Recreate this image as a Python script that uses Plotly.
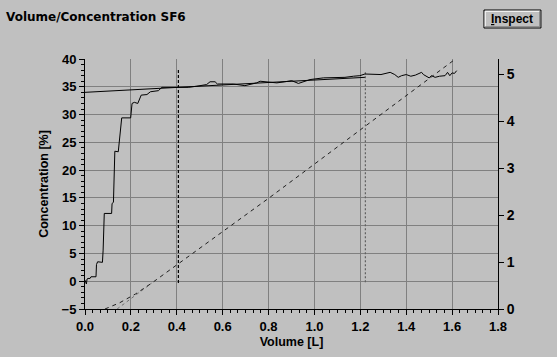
import plotly.graph_objects as go

# ---- data ----
conc_vol = [0.0, 0.006, 0.009, 0.013, 0.022, 0.026, 0.048, 0.050, 0.055, 0.076, 0.079, 0.084,
            0.116, 0.118, 0.124, 0.126, 0.130, 0.145, 0.150, 0.160, 0.199, 0.205, 0.215,
            0.230, 0.245, 0.270, 0.285, 0.320, 0.335, 0.370, 0.414, 0.450, 0.487, 0.530,
            0.545, 0.567, 0.577, 0.647, 0.697, 0.748, 0.763, 0.806, 0.836, 0.870, 0.901,
            0.930, 0.955, 0.981, 1.039, 1.080, 1.133, 1.170, 1.198, 1.220, 1.250, 1.290,
            1.330, 1.350, 1.365, 1.380, 1.400, 1.420, 1.440, 1.467, 1.475, 1.489, 1.500,
            1.510, 1.526, 1.545, 1.569, 1.575, 1.580, 1.590, 1.600, 1.610, 1.620]
conc_pct = [0.2, -0.5, 0.4, 0.5, 0.5, 0.8, 0.8, 3.0, 3.5, 3.4, 5.6, 12.2,
            12.2, 14.0, 14.2, 17.6, 23.4, 23.3, 25.0, 29.4, 29.4, 32.0, 32.2,
            32.0, 33.5, 33.6, 34.1, 34.3, 34.9, 34.9, 34.85, 34.9, 35.1, 35.4,
            35.9, 35.9, 35.5, 35.5, 35.2, 35.7, 36.0, 35.9, 35.7, 35.9, 36.1,
            35.6, 35.9, 36.3, 36.6, 36.6, 36.7, 36.9, 37.0, 37.3, 37.2, 37.2,
            37.6, 37.2, 36.7, 37.0, 37.2, 36.9, 37.1, 37.6, 37.2, 36.9, 36.6,
            37.0, 36.7, 36.9, 37.0, 37.3, 37.6, 37.0, 37.5, 37.4, 37.9]

fit_vol = [0.0, 1.22]
fit_pct = [34.0, 36.7]

vol_curve_x = [0.087, 0.15, 0.22, 0.29, 0.40, 0.60, 0.80, 1.20, 1.62]
vol_curve_y = [0.0, 0.13, 0.32, 0.55, 0.94, 1.65, 2.36, 3.82, 5.35]
vol_curve2_x = [0.14, 0.29]
vol_curve2_y = [0.0, 0.55]

marker1_x = [0.407, 0.407]
marker1_y = [-0.3, 38.0]
marker2_x = [1.222, 1.222]
marker2_y = [-0.2, 37.6]

x_ticks = [0.0, 0.2, 0.4, 0.6, 0.8, 1.0, 1.2, 1.4, 1.6, 1.8]
y_ticks = [-5, 0, 5, 10, 15, 20, 25, 30, 35, 40]
y2_ticks = [0, 1, 2, 3, 4, 5]

# ---- figure ----
BG = "#C0C0C0"
GRID = "#808080"
FONT = "Liberation Sans, Arial, sans-serif"
WIDE = "DejaVu Sans, Verdana, sans-serif"

fig = go.Figure()
fig.add_trace(go.Scatter(x=vol_curve2_x, y=vol_curve2_y, yaxis="y2", mode="lines",
                         line=dict(color="#707070", width=1, dash="dot"), showlegend=False))
fig.add_trace(go.Scatter(x=vol_curve_x, y=vol_curve_y, yaxis="y2", mode="lines",
                         line=dict(color="#202020", width=1, dash="4px,4px"), showlegend=False))
fig.add_trace(go.Scatter(x=marker2_x, y=marker2_y, mode="lines",
                         line=dict(color="#606060", width=1.2, dash="2px,2px"), showlegend=False))
fig.add_trace(go.Scatter(x=marker1_x, y=marker1_y, mode="lines",
                         line=dict(color="black", width=1.2, dash="3px,2px"), showlegend=False))
fig.add_trace(go.Scatter(x=fit_vol, y=fit_pct, mode="lines",
                         line=dict(color="black", width=1), showlegend=False))
fig.add_trace(go.Scatter(x=conc_vol, y=conc_pct, mode="lines", line_shape="linear",
                         line=dict(color="black", width=1), showlegend=False))

tickfont = dict(family=FONT, size=13, color="black", weight="bold")

fig.update_layout(
    width=557, height=357,
    margin=dict(l=85, r=59, t=59, b=48),
    paper_bgcolor=BG, plot_bgcolor=BG,
    xaxis=dict(range=[0, 1.8], tickvals=x_ticks, ticktext=[f"{v:.1f}" for v in x_ticks],
               showgrid=True, gridcolor=GRID, gridwidth=1, zeroline=False,
               showline=True, linecolor="black", linewidth=1,
               ticks="outside", ticklen=5, tickcolor="black", tickfont=tickfont,
               minor=dict(dtick=0.2 / 6, tick0=0, ticks="outside", ticklen=3, tickcolor="black", showgrid=False),
               title=dict(text="Volume [L]", font=dict(family=FONT, size=12.5, color="black", weight="bold"),
                          standoff=4)),
    yaxis=dict(range=[-5, 40], tickvals=y_ticks,
               showgrid=True, gridcolor=GRID, gridwidth=1, zeroline=False,
               showline=True, linecolor="black", linewidth=1,
               ticks="outside", ticklen=5, tickcolor="black", tickfont=tickfont,
               minor=dict(dtick=1, tick0=0, ticks="outside", ticklen=3, tickcolor="black", showgrid=False),
               title=dict(text="Concentration [%]", font=dict(family=FONT, size=12.5, color="black", weight="bold"),
                          standoff=10)),
    yaxis2=dict(range=[0, 5.33], tickvals=y2_ticks, overlaying="y", side="right",
                showgrid=False, zeroline=False, showline=True, linecolor="black", linewidth=1,
                ticks="outside", ticklen=5, tickcolor="black",
                tickfont=dict(family=FONT, size=14, color="black", weight="bold")),
)

# title text
fig.add_annotation(text="Volume/Concentration SF6", xref="paper", yref="paper",
                   x=-0.196, y=1.167, xanchor="left", yanchor="middle", showarrow=False,
                   font=dict(family=WIDE, size=12, color="black", weight="bold"))

# Inspect button
bx0, bx1, by0, by1 = 0.966, 1.104, 1.124, 1.196
fig.add_shape(type="rect", xref="paper", yref="paper", x0=bx0, x1=bx1, y0=by0, y1=by1,
              fillcolor=BG, line=dict(color="black", width=1))
fig.add_shape(type="line", xref="paper", yref="paper", x0=bx0 + 0.003, x1=bx1 - 0.003, y0=by1 - 0.005, y1=by1 - 0.005,
              line=dict(color="white", width=1))
fig.add_shape(type="line", xref="paper", yref="paper", x0=bx0 + 0.003, x1=bx0 + 0.003, y0=by0 + 0.005, y1=by1 - 0.005,
              line=dict(color="white", width=1))
fig.add_shape(type="line", xref="paper", yref="paper", x0=bx0 + 0.003, x1=bx1 - 0.003, y0=by0 + 0.005, y1=by0 + 0.005,
              line=dict(color=GRID, width=1))
fig.add_shape(type="line", xref="paper", yref="paper", x0=bx1 - 0.003, x1=bx1 - 0.003, y0=by0 + 0.005, y1=by1 - 0.005,
              line=dict(color=GRID, width=1))
fig.add_annotation(text="<u>I</u>nspect", xref="paper", yref="paper",
                   x=(bx0 + bx1) / 2, y=(by0 + by1) / 2, xanchor="center", yanchor="middle",
                   showarrow=False,
                   font=dict(family=FONT, size=12, color="black", weight="bold"))

fig.write_html("out.html")
